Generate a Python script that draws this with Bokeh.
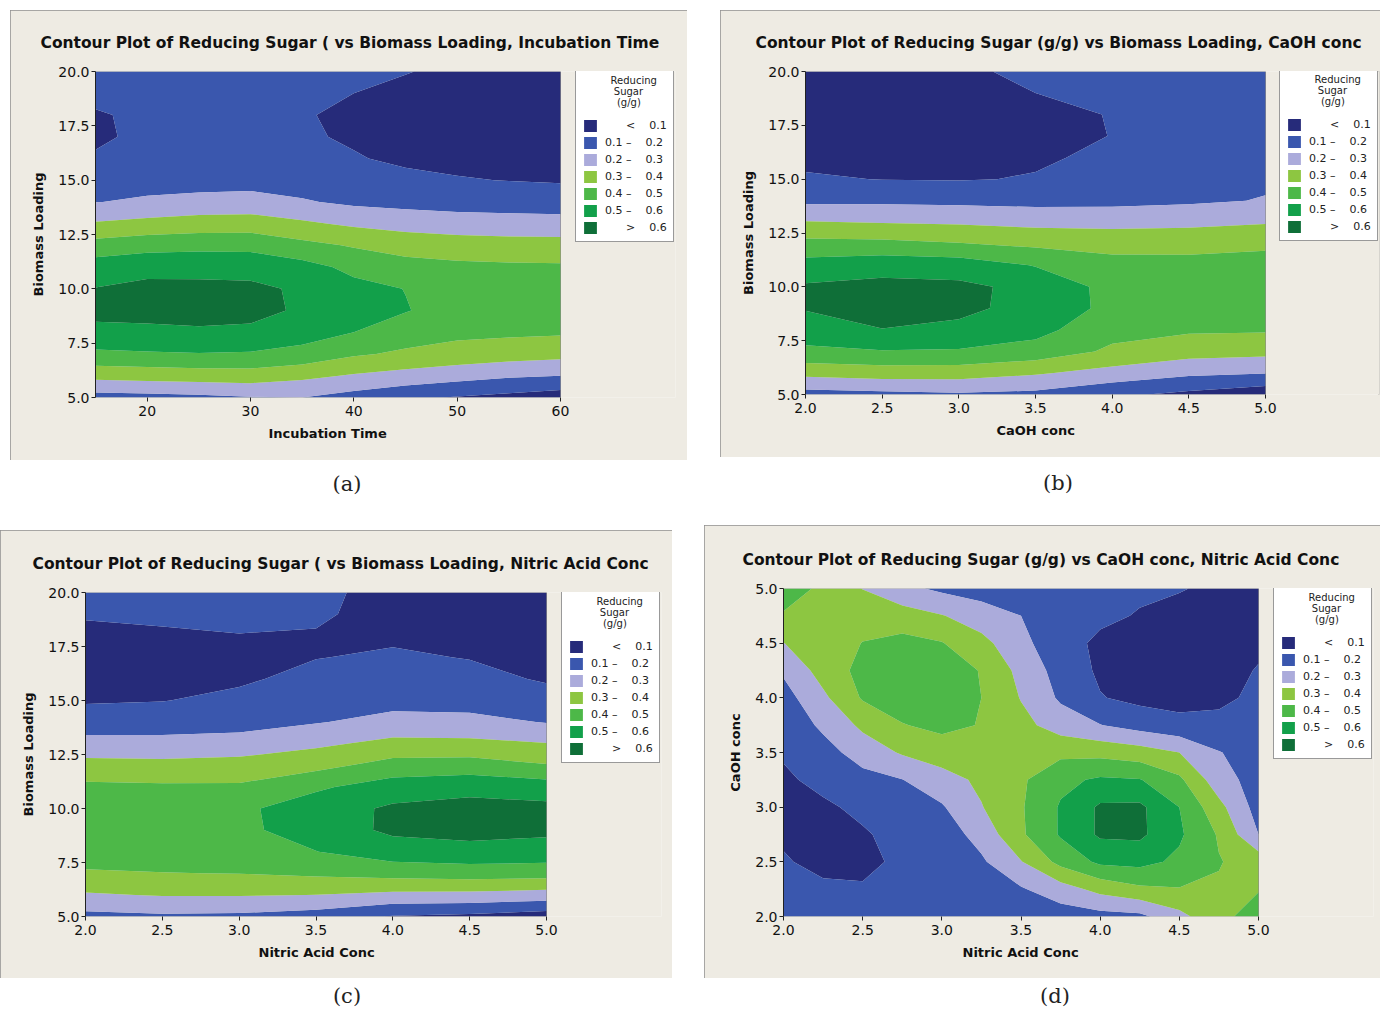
import numpy as np
from bokeh.plotting import figure
from bokeh.models import (Legend, LegendItem, FixedTicker, NumeralTickFormatter, Div, Spacer,
                          BoxAnnotation, Title)
from bokeh.layouts import row, column
from bokeh.embed import file_html
from bokeh.resources import INLINE

BG = "#EEEBE3"
band_colors = ["#262B7A", "#3A57AE", "#ABABDB", "#8DC641", "#4DB848", "#12A04A", "#0F6F38"]
levels = [0.0, 0.1, 0.2, 0.3, 0.4, 0.5, 0.6, 1.0]
NB = "\u00a0"
legend_labels = [NB * 6 + "<" + NB * 4 + "0.1",
                 "0.1" + NB + "\u2013" + NB * 4 + "0.2",
                 "0.2" + NB + "\u2013" + NB * 4 + "0.3",
                 "0.3" + NB + "\u2013" + NB * 4 + "0.4",
                 "0.4" + NB + "\u2013" + NB * 4 + "0.5",
                 "0.5" + NB + "\u2013" + NB * 4 + "0.6",
                 NB * 6 + ">" + NB * 4 + "0.6"]
legend_title = NB * 9 + "Reducing\n" + NB * 10 + "Sugar\n" + NB * 11 + "(g/g)"

# ---------------- panel (a): Biomass Loading vs Incubation Time ----------------
a_time = [15, 20, 25, 30, 35, 40, 45, 50, 55, 60]
a_biomass = [5, 6, 7, 8, 9, 10, 11, 12, 13, 14, 15, 16, 17, 18, 19, 20]
a_sugar = [
    [0.160, 0.168, 0.179, 0.195, 0.200, 0.162, 0.120, 0.093, 0.072, 0.046],
    [0.332, 0.341, 0.350, 0.354, 0.325, 0.290, 0.264, 0.238, 0.213, 0.200],
    [0.479, 0.489, 0.496, 0.490, 0.470, 0.413, 0.383, 0.362, 0.346, 0.332],
    [0.580, 0.585, 0.590, 0.585, 0.540, 0.500, 0.450, 0.423, 0.417, 0.412],
    [0.621, 0.622, 0.626, 0.622, 0.590, 0.539, 0.505, 0.461, 0.454, 0.447],
    [0.603, 0.625, 0.620, 0.618, 0.588, 0.529, 0.498, 0.460, 0.453, 0.448],
    [0.550, 0.570, 0.575, 0.570, 0.535, 0.475, 0.432, 0.421, 0.416, 0.413],
    [0.440, 0.464, 0.471, 0.469, 0.427, 0.391, 0.365, 0.348, 0.340, 0.338],
    [0.310, 0.330, 0.347, 0.350, 0.316, 0.284, 0.259, 0.247, 0.241, 0.238],
    [0.198, 0.212, 0.230, 0.235, 0.210, 0.180, 0.170, 0.160, 0.155, 0.150],
    [0.151, 0.170, 0.160, 0.165, 0.150, 0.140, 0.120, 0.105, 0.098, 0.092],
    [0.105, 0.151, 0.140, 0.140, 0.125, 0.106, 0.085, 0.080, 0.075, 0.070],
    [0.0925, 0.110, 0.125, 0.130, 0.110, 0.090, 0.078, 0.068, 0.064, 0.060],
    [0.096, 0.108, 0.122, 0.125, 0.105, 0.087, 0.075, 0.065, 0.060, 0.057],
    [0.111, 0.120, 0.130, 0.130, 0.115, 0.100, 0.083, 0.070, 0.063, 0.060],
    [0.130, 0.135, 0.140, 0.140, 0.125, 0.110, 0.103, 0.085, 0.075, 0.070],
]
a_xticks = [20, 30, 40, 50, 60]
biomass_ticks = [5.0, 7.5, 10.0, 12.5, 15.0, 17.5, 20.0]

# ---------------- panel (b): Biomass Loading vs CaOH conc ----------------
b_caoh = [2.0, 2.5, 3.0, 3.5, 4.0, 4.5, 5.0]
b_biomass = [5, 6, 7, 8, 9, 10, 11, 12, 13, 14, 15, 16, 17, 18, 19, 20]
b_sugar = [
    [0.161, 0.174, 0.188, 0.175, 0.120, 0.077, 0.033],
    [0.330, 0.348, 0.347, 0.311, 0.265, 0.220, 0.204],
    [0.480, 0.494, 0.489, 0.462, 0.382, 0.341, 0.330],
    [0.551, 0.598, 0.583, 0.530, 0.432, 0.413, 0.410],
    [0.606, 0.627, 0.617, 0.575, 0.471, 0.449, 0.444],
    [0.612, 0.625, 0.620, 0.575, 0.468, 0.455, 0.452],
    [0.540, 0.565, 0.555, 0.495, 0.420, 0.419, 0.421],
    [0.430, 0.425, 0.405, 0.380, 0.380, 0.380, 0.390],
    [0.305, 0.296, 0.287, 0.272, 0.264, 0.273, 0.292],
    [0.180, 0.181, 0.176, 0.170, 0.175, 0.185, 0.205],
    [0.110, 0.098, 0.095, 0.105, 0.140, 0.160, 0.185],
    [0.080, 0.075, 0.070, 0.090, 0.115, 0.145, 0.175],
    [0.070, 0.062, 0.062, 0.085, 0.101, 0.140, 0.168],
    [0.068, 0.060, 0.060, 0.087, 0.102, 0.140, 0.165],
    [0.070, 0.062, 0.065, 0.100, 0.115, 0.145, 0.165],
    [0.075, 0.066, 0.080, 0.125, 0.130, 0.150, 0.170],
]
conc_ticks = [2.0, 2.5, 3.0, 3.5, 4.0, 4.5, 5.0]

# ---------------- panel (c): Biomass Loading vs Nitric Acid Conc ----------------
c_nitric = [2.0, 2.5, 3.0, 3.5, 4.0, 4.5, 5.0]
c_biomass = [5, 6, 7, 8, 9, 10, 11, 12, 13, 14, 15, 16, 17, 18, 19, 20]
c_sugar = [
    [0.172, 0.184, 0.180, 0.154, 0.093, 0.078, 0.048],
    [0.289, 0.306, 0.306, 0.299, 0.276, 0.273, 0.256],
    [0.391, 0.398, 0.402, 0.418, 0.438, 0.448, 0.444],
    [0.438, 0.436, 0.439, 0.498, 0.555, 0.570, 0.560],
    [0.490, 0.470, 0.477, 0.548, 0.618, 0.630, 0.620],
    [0.490, 0.475, 0.480, 0.553, 0.615, 0.632, 0.625],
    [0.420, 0.414, 0.414, 0.484, 0.550, 0.570, 0.550],
    [0.335, 0.329, 0.337, 0.370, 0.436, 0.445, 0.406],
    [0.233, 0.229, 0.243, 0.281, 0.328, 0.324, 0.304],
    [0.152, 0.156, 0.160, 0.194, 0.230, 0.231, 0.195],
    [0.090, 0.097, 0.125, 0.165, 0.170, 0.160, 0.140],
    [0.065, 0.070, 0.085, 0.130, 0.147, 0.130, 0.090],
    [0.060, 0.062, 0.072, 0.097, 0.113, 0.096, 0.070],
    [0.075, 0.085, 0.097, 0.095, 0.085, 0.075, 0.060],
    [0.110, 0.120, 0.125, 0.110, 0.075, 0.065, 0.055],
    [0.130, 0.140, 0.140, 0.120, 0.070, 0.060, 0.050],
]

# ---------------- panel (d): CaOH conc vs Nitric Acid Conc ----------------
d_nitric = [2.0, 2.25, 2.5, 2.75, 3.0, 3.25, 3.5, 3.75, 4.0, 4.25, 4.5, 4.75, 5.0]
d_caoh = [2.0, 2.25, 2.5, 2.75, 3.0, 3.25, 3.5, 3.75, 4.0, 4.25, 4.5, 4.75, 5.0]
d_sugar = [
    [0.140, 0.135, 0.130, 0.130, 0.130, 0.135, 0.140, 0.150, 0.165, 0.175, 0.270, 0.375, 0.440],
    [0.130, 0.120, 0.110, 0.125, 0.145, 0.165, 0.190, 0.255, 0.330, 0.380, 0.395, 0.390, 0.395],
    [0.110, 0.070, 0.075, 0.120, 0.150, 0.185, 0.295, 0.430, 0.520, 0.530, 0.480, 0.405, 0.360],
    [0.085, 0.070, 0.090, 0.130, 0.150, 0.235, 0.385, 0.510, 0.615, 0.620, 0.515, 0.390, 0.200],
    [0.075, 0.085, 0.120, 0.160, 0.190, 0.295, 0.390, 0.510, 0.615, 0.620, 0.500, 0.330, 0.160],
    [0.085, 0.125, 0.165, 0.198, 0.260, 0.320, 0.385, 0.475, 0.515, 0.505, 0.420, 0.240, 0.160],
    [0.110, 0.160, 0.245, 0.310, 0.350, 0.370, 0.375, 0.375, 0.370, 0.345, 0.300, 0.205, 0.150],
    [0.125, 0.220, 0.320, 0.395, 0.425, 0.395, 0.330, 0.255, 0.203, 0.160, 0.130, 0.120, 0.130],
    [0.160, 0.280, 0.410, 0.450, 0.445, 0.400, 0.295, 0.185, 0.105, 0.075, 0.065, 0.085, 0.115],
    [0.215, 0.340, 0.430, 0.460, 0.450, 0.395, 0.270, 0.160, 0.085, 0.065, 0.060, 0.070, 0.105],
    [0.298, 0.360, 0.402, 0.430, 0.405, 0.330, 0.230, 0.130, 0.085, 0.075, 0.070, 0.075, 0.085],
    [0.390, 0.385, 0.370, 0.345, 0.305, 0.250, 0.200, 0.150, 0.115, 0.095, 0.085, 0.080, 0.075],
    [0.450, 0.380, 0.297, 0.226, 0.180, 0.155, 0.140, 0.130, 0.120, 0.112, 0.103, 0.090, 0.080],
]


def panel(title, xs, ys, zs, xlabel, ylabel, xticks, yticks, xfmt, w, h,
          ml, mr, mt, mb, data_px, toff, xlab_off, leg_xy):
    frame_px = w - ml - mr
    x_end = xs[0] + frame_px * (xs[-1] - xs[0]) / data_px   # frame widened to hold the legend
    p = figure(width=w, height=h, x_range=(xs[0], x_end), y_range=(ys[0], ys[-1]),
               output_backend="svg", toolbar_location=None,
               min_border_left=ml, min_border_right=mr, min_border_top=mt, min_border_bottom=mb,
               border_fill_color=BG, background_fill_color=BG, outline_line_color=None)
    p.styles = {"outline": "2px solid #8f8f8f", "outline-offset": "-2px"}
    cr = p.contour(x=xs, y=ys, z=np.array(zs, dtype=float), levels=levels,
                   fill_color=band_colors, line_color=None)
    cr.fill_renderer.glyph.line_color = cr.fill_renderer.glyph.fill_color
    cr.fill_renderer.glyph.line_width = 0.8
    p.add_layout(BoxAnnotation(left=xs[0], right=xs[-1], bottom=ys[0], top=ys[-1],
                               fill_alpha=0, fill_color=None,
                               line_color="#222222", line_width=1))

    p.title.text = title
    p.title.align = "left"
    p.title.offset = toff
    p.title.standoff = 40
    p.title.text_font = "DejaVu Sans"
    p.title.text_font_style = "bold"
    p.title.text_font_size = "15.5px"
    p.title.text_color = "#111111"

    p.xaxis.ticker = FixedTicker(ticks=xticks)
    p.yaxis.ticker = FixedTicker(ticks=yticks)
    p.xaxis.formatter = NumeralTickFormatter(format=xfmt)
    p.yaxis.formatter = NumeralTickFormatter(format="0.0")
    p.yaxis.axis_label = ylabel
    for ax in (p.xaxis[0], p.yaxis[0]):
        ax.axis_line_color = "#222222"
        ax.major_tick_line_color = "#222222"
        ax.major_tick_out = 4
        ax.major_tick_in = 0
        ax.minor_tick_line_color = None
        ax.major_label_text_font = "DejaVu Sans"
        ax.major_label_text_font_size = "14px"
        ax.major_label_text_color = "#111111"
        ax.axis_label_text_font = "DejaVu Sans"
        ax.axis_label_text_font_style = "bold"
        ax.axis_label_text_font_size = "13px"
        ax.axis_label_text_color = "#111111"
    p.xaxis.axis_line_color = None
    p.xaxis.major_label_standoff = 4
    p.yaxis.major_label_standoff = 2
    p.yaxis.axis_label_standoff = 9
    p.grid.visible = False

    p.add_layout(Title(text=xlabel, align="left", offset=xlab_off, vertical_align="top",
                       standoff=14, text_font="DejaVu Sans", text_font_style="bold",
                       text_font_size="13px", text_color="#111111"), "below")

    # legend swatches: zero-extent placeholder glyphs carrying each band colour
    items = []
    for c, lab in zip(band_colors, legend_labels):
        r = p.quad(left=[np.nan], right=[np.nan], top=[np.nan], bottom=[np.nan],
                   fill_color=c, line_color=None)
        items.append(LegendItem(label=lab, renderers=[r]))
    leg = Legend(items=items, location=leg_xy, title=legend_title,
                 title_text_font="DejaVu Sans", title_text_font_size="10px",
                 title_text_font_style="normal", title_text_color="#222222",
                 title_standoff=10,
                 label_text_font="DejaVu Sans", label_text_font_size="11px",
                 label_text_color="#222222",
                 glyph_width=16, glyph_height=15, label_height=13, label_standoff=7,
                 label_width=60, spacing=2, padding=6, margin=0,
                 border_line_color="#333333", border_line_width=1,
                 background_fill_color="white", background_fill_alpha=1.0)
    p.add_layout(leg, "center")
    return p


LEG_H = 171
pa = panel("Contour Plot of Reducing Sugar ( vs Biomass Loading, Incubation Time",
           a_time, a_biomass, a_sugar, "Incubation Time", "Biomass Loading",
           a_xticks, biomass_ticks, "0", 677, 450, 85, 12, 61, 63, 465, -55, 173, (480, 326 - LEG_H))
pb = panel("Contour Plot of Reducing Sugar (g/g) vs Biomass Loading, CaOH conc",
           b_caoh, b_biomass, b_sugar, "CaOH conc", "Biomass Loading",
           conc_ticks, biomass_ticks, "0.0", 660, 447, 85, 1, 61, 62, 460, -50, 191, (474, 324 - LEG_H))
pc = panel("Contour Plot of Reducing Sugar ( vs Biomass Loading, Nitric Acid Conc",
           c_nitric, c_biomass, c_sugar, "Nitric Acid Conc", "Biomass Loading",
           conc_ticks, biomass_ticks, "0.0", 672, 448, 85, 11, 62, 62, 461, -53, 173, (476, 324 - LEG_H))
pd_ = panel("Contour Plot of Reducing Sugar (g/g) vs CaOH conc, Nitric Acid Conc",
            d_nitric, d_caoh, d_sugar, "Nitric Acid Conc", "CaOH conc",
            conc_ticks, conc_ticks, "0.0", 676, 453, 79, 7, 63, 62, 475, -41, 179, (490, 328 - LEG_H))

cap_style = {"font-family": "'DejaVu Serif', serif", "font-size": "21px",
             "text-align": "center", "color": "#222222"}


def caption(text, w, h, lh):
    return Div(text=text, width=w, height=h, margin=0,
               styles={**cap_style, "line-height": f"{lh}px"})


def sp(w, h):
    return Spacer(width=w, height=h, margin=0)


top = row(sp(10, 450), pa, sp(33, 450), pb)
caps1 = row(sp(10, 65), caption("(a)", 674, 65, 48), sp(52, 65), caption("(b)", 644, 65, 46))
bottom = row(column(sp(672, 5), pc), sp(32, 453), pd_)
caps2 = row(caption("(c)", 694, 34, 36), sp(36, 34), caption("(d)", 650, 34, 36))
layout = column(sp(1380, 10), top, caps1, bottom, caps2)

open("out.html", "w").write(file_html(layout, INLINE))
